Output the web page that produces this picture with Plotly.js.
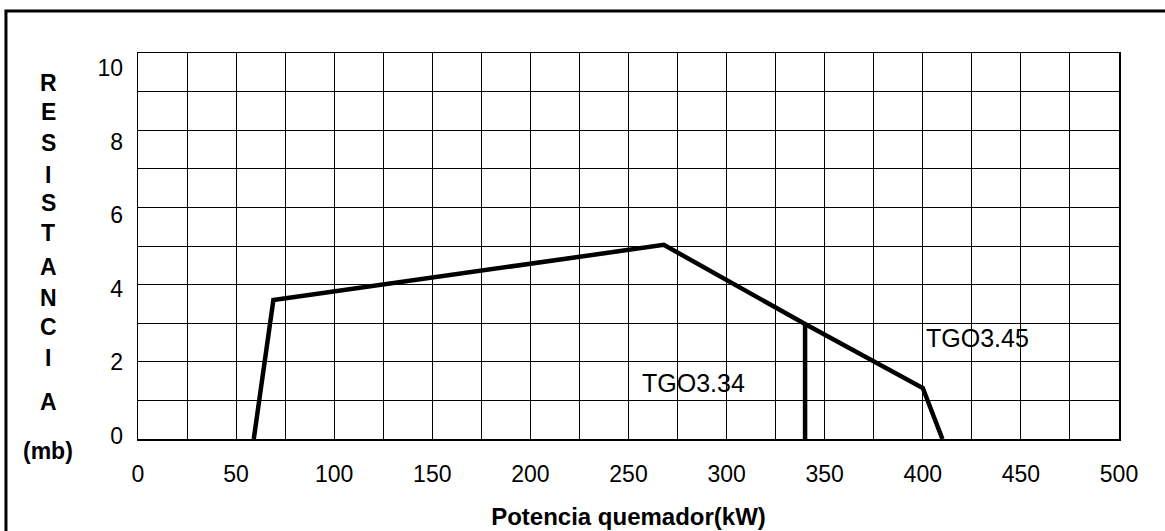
<!DOCTYPE html>
<html>
<head>
<meta charset="utf-8">
<script src="https://cdn.plot.ly/plotly-3.0.1.min.js"></script>
<style>html,body{margin:0;padding:0;background:#fff;}#chart{width:1165px;height:531px;}</style>
</head>
<body>
<div id="chart"></div>
<script>
// Curve of TGO3.45 (outer working field)
const potencia = [59, 69, 268, 340, 400, 410];
const resistencia = [0, 3.6, 5.03, 2.98, 1.32, 0];
// TGO3.34 limit (vertical line)
const tgo334X = [340, 340];
const tgo334Y = [0, 2.98];
// Labels
const labelText = ['TGO3.34', 'TGO3.45'];
const labelX = [283, 428];
const labelY = [1.45, 2.62];
// Y title letters
const yTitleLetters = ['R','E','S','I','S','T','A','N','C','I','A','(mb)'];
const yTitlePos = [0.923, 0.848, 0.767, 0.684, 0.611, 0.534, 0.446, 0.365, 0.290, 0.210, 0.096, -0.030];
const xTicks = [0, 50, 100, 150, 200, 250, 300, 350, 400, 450, 500];
const yTicks = [0, 2, 4, 6, 8, 10];

const font = 'Liberation Sans, Arial, sans-serif';

const traces = [
  {x: potencia, y: resistencia, mode: 'lines', line: {color: '#000', width: 4.5}, hoverinfo: 'x+y', showlegend: false},
  {x: tgo334X, y: tgo334Y, mode: 'lines', line: {color: '#000', width: 4.5}, hoverinfo: 'x+y', showlegend: false}
];

const annotations = [];
for (let i = 0; i < labelText.length; i++) {
  annotations.push({x: labelX[i], y: labelY[i], xref: 'x', yref: 'y', text: labelText[i], showarrow: false,
    font: {family: font, size: 25, color: '#000'}, xanchor: 'center', yanchor: 'middle'});
}
for (let i = 0; i < yTitleLetters.length; i++) {
  annotations.push({x: -0.0917, y: yTitlePos[i], xref: 'paper', yref: 'paper', text: '<b>' + yTitleLetters[i] + '</b>', showarrow: false,
    font: {family: font, size: 23, color: '#000'}, xanchor: 'center', yanchor: 'middle'});
}

const layout = {
  width: 1165, height: 531,
  margin: {l: 138, r: 46, t: 53, b: 92},
  paper_bgcolor: '#fff', plot_bgcolor: '#fff',
  font: {family: font, color: '#000'},
  showlegend: false,
  xaxis: {
    range: [0, 500], tickvals: xTicks, ticks: '', showgrid: true, gridcolor: '#000', gridwidth: 1,
    minor: {dtick: 25, showgrid: true, gridcolor: '#000', gridwidth: 1},
    showline: true, linecolor: '#000', linewidth: 1.5, mirror: true, zeroline: false,
    tickfont: {family: font, size: 23, color: '#000'}, ticklabelstandoff: 14,
    title: {text: '<b>Potencia quemador(kW)</b>', font: {family: font, size: 24, color: '#000'}, standoff: 22},
    automargin: false, fixedrange: true
  },
  yaxis: {
    range: [0, 10], dtick: 2, ticks: '', showgrid: true, gridcolor: '#000', gridwidth: 1,
    minor: {dtick: 1, showgrid: true, gridcolor: '#000', gridwidth: 1},
    showline: true, linecolor: '#000', linewidth: 1.5, mirror: true, zeroline: false,
    showticklabels: false, automargin: false, fixedrange: true
  },
  yaxis2: {
    overlaying: 'y', anchor: 'x', side: 'left', range: [-0.0815, 10.41], tickvals: yTicks,
    ticks: '', showgrid: false, zeroline: false, showline: false,
    tickfont: {family: font, size: 23, color: '#000'}, ticklabelstandoff: 14,
    automargin: false, fixedrange: true
  },
  annotations: annotations,
  shapes: [
    {type: 'rect', xref: 'paper', yref: 'paper', x0: -0.1346, y0: -0.35, x1: 1.2, y1: 1.109,
     line: {color: '#000', width: 3}, fillcolor: 'rgba(0,0,0,0)', layer: 'above'}
  ]
};

// Invisible point that activates the yaxis2 tick labels
traces.push({x: [0], y: [0], yaxis: 'y2', mode: 'markers', marker: {opacity: 0}, hoverinfo: 'skip', showlegend: false});

Plotly.newPlot('chart', traces, layout, {displayModeBar: false, staticPlot: true});
</script>
</body>
</html>
